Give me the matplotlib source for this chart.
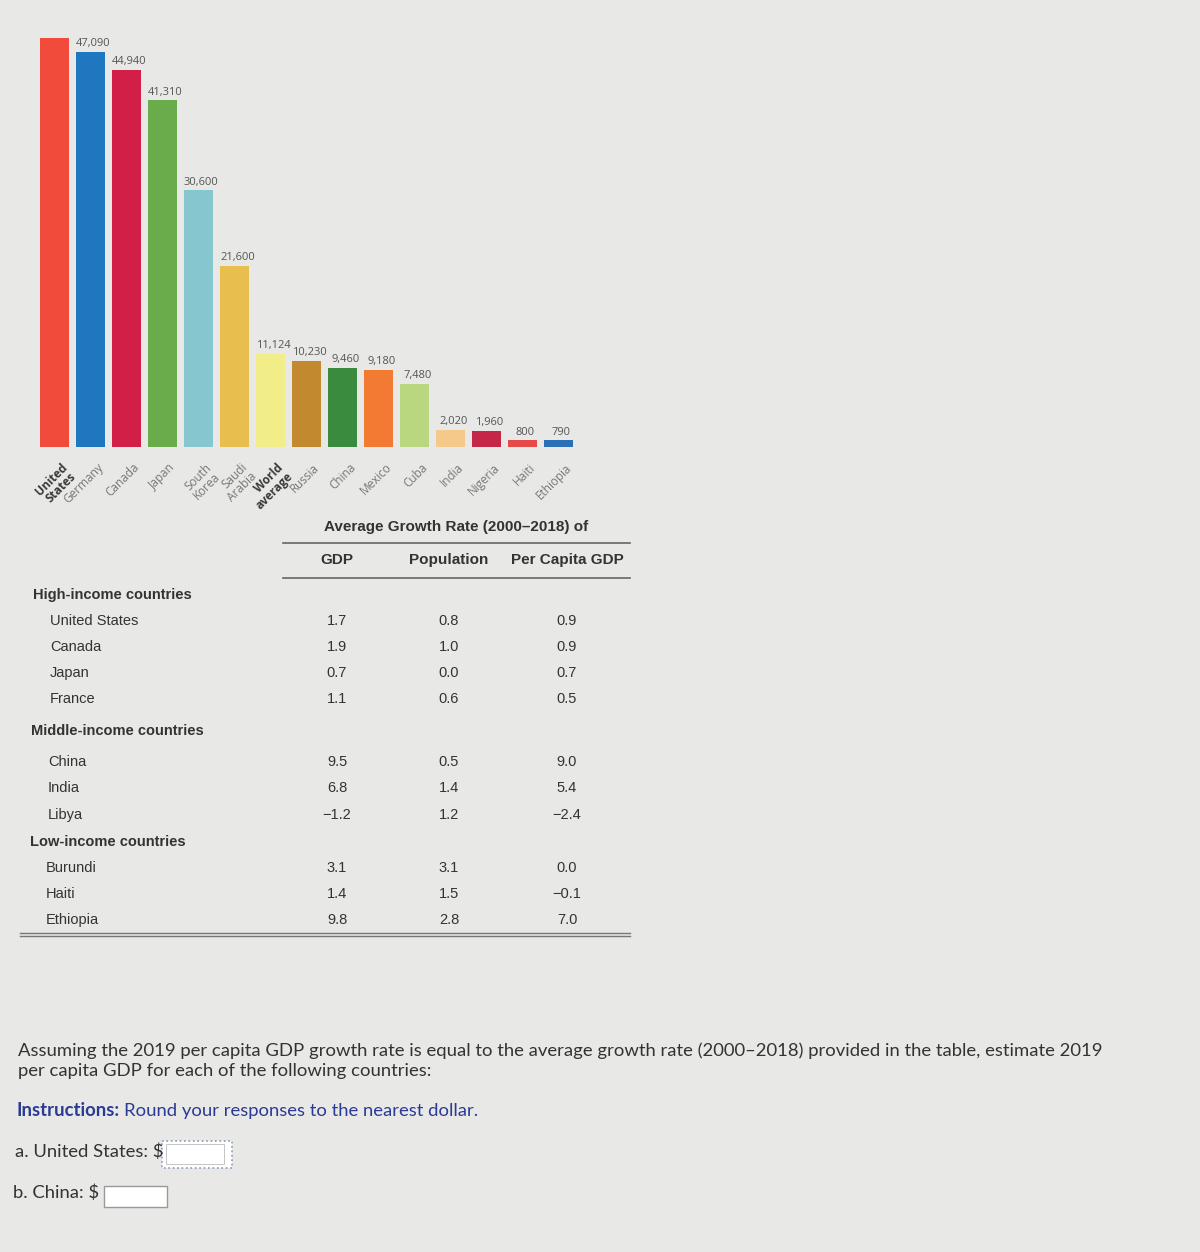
import matplotlib.pyplot as plt
from matplotlib.patches import Rectangle

# bar chart data (per capita GDP, US$)
countries = ['United\nStates', 'Germany', 'Canada', 'Japan', 'South\nKorea', 'Saudi\nArabia',
             'World\naverage', 'Russia', 'China', 'Mexico', 'Cuba', 'India', 'Nigeria', 'Haiti', 'Ethiopia']
gdp_pc = [48750, 47090, 44940, 41310, 30600, 21600, 11124, 10230, 9460, 9180, 7480, 2020, 1960, 800, 790]
value_labels = ['', '47,090', '44,940', '41,310', '30,600', '21,600', '11,124', '10,230',
                '9,460', '9,180', '7,480', '2,020', '1,960', '800', '790']
bar_colors = ['#f04b3b', '#1f77c0', '#d21f48', '#6aab4c', '#86c6cf', '#e8bf4e', '#f1ee8a', '#c2892f',
              '#3b8b3e', '#f27a32', '#b9d77f', '#f4c98a', '#c52749', '#e54a48', '#2b6fb6']
bold_labels = ['United\nStates', 'World\naverage']

# table data
table_title = 'Average Growth Rate (2000\u20132018) of'
col_heads = ['GDP', 'Population', 'Per Capita GDP']
groups = ['High-income countries', 'Middle-income countries', 'Low-income countries']
group_rows = [['United States', 'Canada', 'Japan', 'France'],
              ['China', 'India', 'Libya'],
              ['Burundi', 'Haiti', 'Ethiopia']]
gdp_growth = [['1.7', '1.9', '0.7', '1.1'], ['9.5', '6.8', '\u22121.2'], ['3.1', '1.4', '9.8']]
pop_growth = [['0.8', '1.0', '0.0', '0.6'], ['0.5', '1.4', '1.2'], ['3.1', '1.5', '2.8']]
pc_growth = [['0.9', '0.9', '0.7', '0.5'], ['9.0', '5.4', '\u22122.4'], ['0.0', '\u22120.1', '7.0']]

W, H = 1200, 1252
bg = '#e8e8e6'
fig = plt.figure(figsize=(W / 100, H / 100), dpi=100, facecolor=bg)

# bar chart axes
base_px, top_px = 447, 30
left_px, slot = 36.5, 36.0
ax = fig.add_axes([left_px / W, 1 - base_px / H, 15 * slot / W, (base_px - top_px) / H])
ymax = (base_px - top_px) / 395 * 47090
x = list(range(len(countries)))
ax.bar(x, gdp_pc, width=0.8, color=bar_colors)
ax.set_xlim(-0.5, 14.5)
ax.set_ylim(0, ymax)
ax.axis('off')
for i, (v, lab) in enumerate(zip(gdp_pc, value_labels)):
    if lab:
        ax.annotate(lab, (i + 0.08, v), xytext=(0, 2), textcoords='offset points',
                    ha='center', va='bottom', fontsize=8, color='#555555', family='Open Sans')
for i, name in enumerate(countries):
    bold = name in bold_labels
    ax.annotate(name, (i + 0.18, 0), xytext=(0, -10), textcoords='offset points',
                ha='right', va='top', rotation=45, rotation_mode='anchor',
                fontsize=8.5, linespacing=0.95, family='Open Sans',
                fontweight='bold' if bold else 'normal',
                color='#3a3a3a' if bold else '#777777', annotation_clip=False)

# overlay in pixel coordinates for table and question text
ov = fig.add_axes([0, 0, 1, 1])
ov.set_xlim(0, W)
ov.set_ylim(H, 0)
ov.axis('off')
ov.patch.set_alpha(0)

tf = dict(family='Liberation Sans', color='#333333', va='center')
ov.text(456, 527, table_title, ha='center', fontsize=11, fontweight='bold', **tf)
ov.plot([283, 630], [543, 543], color='#666666', lw=1.2)
col_x = [337, 449, 567]
for cx, h in zip(col_x, col_heads):
    ov.text(cx, 560, h, ha='center', fontsize=11, fontweight='bold', **tf)
ov.plot([283, 630], [578, 578], color='#666666', lw=1.2)

group_y = [595, 731, 842]
group_x = [33, 31, 30]
row_y = [[621, 647, 673, 699], [762, 788, 815], [868, 894, 920]]
row_x = [50, 48, 46]
for g in range(3):
    ov.text(group_x[g], group_y[g], groups[g], ha='left', fontsize=10.5, fontweight='bold', **tf)
    for r, name in enumerate(group_rows[g]):
        y = row_y[g][r]
        ov.text(row_x[g], y, name, ha='left', fontsize=10.5, **tf)
        for cx, col in zip(col_x, [gdp_growth, pop_growth, pc_growth]):
            ov.text(cx, y, col[g][r], ha='center', fontsize=10.5, **tf)
ov.plot([20, 630], [933, 933], color='#777777', lw=1.0)
ov.plot([20, 630], [936, 936], color='#777777', lw=1.0)

# question text
qf = dict(family='Lato', va='center', fontsize=13.3)
ov.text(18, 1051, 'Assuming the 2019 per capita GDP growth rate is equal to the average growth rate '
        '(2000\u20132018) provided in the table, estimate 2019', ha='left', color='#333333', **qf)
ov.text(18, 1071, 'per capita GDP for each of the following countries:', ha='left', color='#333333', **qf)
blue = '#2b3a94'
t = ov.text(16, 1111, 'Instructions:', ha='left', color=blue, fontweight='bold', **qf)
fig.canvas.draw()
bb = t.get_window_extent()
ov.text(16 + bb.width + 5, 1111, 'Round your responses to the nearest dollar.', ha='left', color=blue, **qf)
ov.text(15, 1152, 'a. United States: $', ha='left', color='#333333', **qf)
ov.add_patch(Rectangle((162, 1141), 70, 27, facecolor='white', edgecolor='#8899bb', lw=1.2, ls=':'))
ov.add_patch(Rectangle((166, 1144), 58, 20, facecolor='white', edgecolor='#bbbbbb', lw=0.6))
ov.text(13, 1193, 'b. China: $', ha='left', color='#333333', **qf)
ov.add_patch(Rectangle((104, 1186), 63, 21, facecolor='white', edgecolor='#999999', lw=1.0))

fig.savefig('out.png', dpi=100, facecolor=bg)
